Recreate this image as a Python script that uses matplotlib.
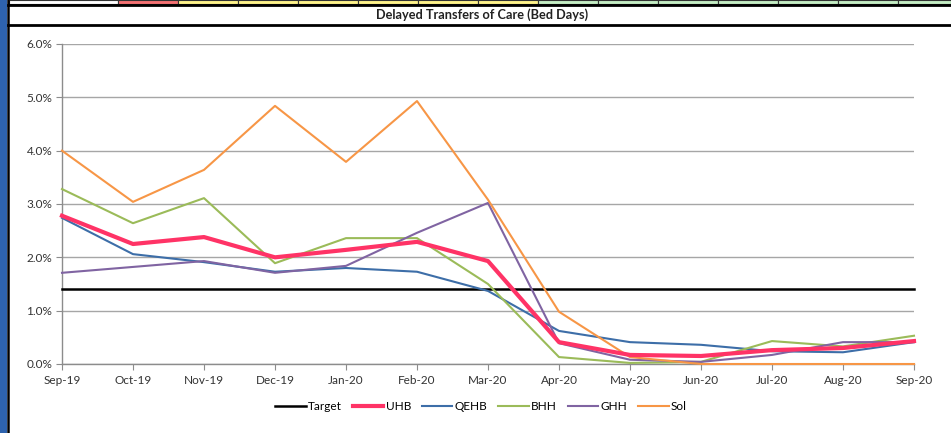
import matplotlib
matplotlib.use('Agg')
from matplotlib import pyplot as plt
from matplotlib.patches import Rectangle
from matplotlib.lines import Line2D

plt.rcParams['font.family'] = ['Lato', 'DejaVu Sans']

months = ['Sep-19', 'Oct-19', 'Nov-19', 'Dec-19', 'Jan-20', 'Feb-20', 'Mar-20',
          'Apr-20', 'May-20', 'Jun-20', 'Jul-20', 'Aug-20', 'Sep-20']
target = [1.4] * 13
uhb = [2.78, 2.25, 2.38, 2.00, 2.14, 2.29, 1.93, 0.41, 0.17, 0.15, 0.26, 0.30, 0.43]
qehb = [2.74, 2.06, 1.91, 1.73, 1.80, 1.73, 1.37, 0.62, 0.41, 0.36, 0.24, 0.22, 0.41]
bhh = [3.28, 2.64, 3.11, 1.89, 2.36, 2.36, 1.50, 0.13, 0.02, 0.04, 0.43, 0.33, 0.53]
ghh = [1.71, 1.82, 1.93, 1.71, 1.84, 2.46, 3.02, 0.39, 0.08, 0.04, 0.17, 0.41, 0.41]
sol = [4.00, 3.04, 3.64, 4.84, 3.79, 4.93, 3.08, 0.98, 0.13, 0.00, 0.00, 0.00, 0.00]

W, H = 951, 433
fig = plt.figure(figsize=(W / 100, H / 100), dpi=100)

# frame around the chart (spreadsheet look)
fig.patches.append(Rectangle((0, 0), 7 / W, 1, transform=fig.transFigure,
                             facecolor='#2e63ae', edgecolor='none'))
fig.lines.append(Line2D([8 / W, 8 / W], [0, 1], transform=fig.transFigure,
                        color='black', lw=1.8))
cell_cols = ['white', '#f47172', '#fff38a', '#fff38a', '#fff38a', '#fff38a',
             '#fff38a', '#fff38a', '#c4eec4', '#c4eec4', '#c4eec4', '#c4eec4',
             '#c4eec4', '#c4eec4', '#c4eec4']
edges = [9, 118, 178, 238, 298, 358, 418, 478, 538, 598, 658, 718, 778, 838, 898, 951]
for i, c in enumerate(cell_cols):
    fig.patches.append(Rectangle((edges[i] / W, 1 - 4 / H), (edges[i + 1] - edges[i]) / W, 4 / H,
                                 transform=fig.transFigure, facecolor=c,
                                 edgecolor='#333333', lw=0.8))
for yy in (4.5, 25):
    fig.lines.append(Line2D([8 / W, 1], [1 - yy / H, 1 - yy / H], transform=fig.transFigure,
                            color='black', lw=2.0))
fig.text(482 / W, 1 - 15 / H, 'Delayed Transfers of Care (Bed Days)', ha='center',
         va='center', fontsize=9.2, fontweight='bold', color='#222222')

ax = fig.add_axes([62 / W, 1 - 364 / H, 852 / W, 320 / H])
x = range(len(months))
ax.plot(x, target, color='black', lw=1.8, label='Target', zorder=3, clip_on=False)
ax.plot(x, uhb, color='#ff3366', lw=3.0, label='UHB', zorder=4, clip_on=False)
ax.plot(x, qehb, color='#3d6ea8', lw=1.5, label='QEHB', zorder=3, clip_on=False)
ax.plot(x, bhh, color='#9bbb59', lw=1.5, label='BHH', zorder=3, clip_on=False)
ax.plot(x, ghh, color='#8064a2', lw=1.5, label='GHH', zorder=3, clip_on=False)
ax.plot(x, sol, color='#f79646', lw=1.5, label='Sol', zorder=3, clip_on=False)

ax.set_xlim(0, 12)
ax.set_ylim(0, 6)
ax.set_xticks(list(x))
ax.set_xticklabels(months)
ax.set_yticks([0, 1, 2, 3, 4, 5, 6])
ax.set_yticklabels(['%.1f%%' % v for v in range(7)])
ax.grid(axis='y', color='#a6a6a6', lw=1.0)
ax.set_axisbelow(True)
for s in ('top', 'right'):
    ax.spines[s].set_visible(False)
for s in ('left', 'bottom'):
    ax.spines[s].set_color('#8c8c8c')
    ax.spines[s].set_linewidth(1.0)
    ax.spines[s].set_zorder(2)
ax.tick_params(axis='both', direction='out', length=4, color='#8c8c8c',
               labelsize=8.5, labelcolor='#333333')
ax.tick_params(axis='x', pad=4)
ax.tick_params(axis='y', pad=3)

ax.legend(loc='center', bbox_to_anchor=(481 / W, 1 - 407 / H), bbox_transform=fig.transFigure,
          ncol=6, frameon=False, fontsize=8.5, handlelength=2.6, handletextpad=0.2,
          columnspacing=0.9)

fig.savefig('out.png', dpi=100)
